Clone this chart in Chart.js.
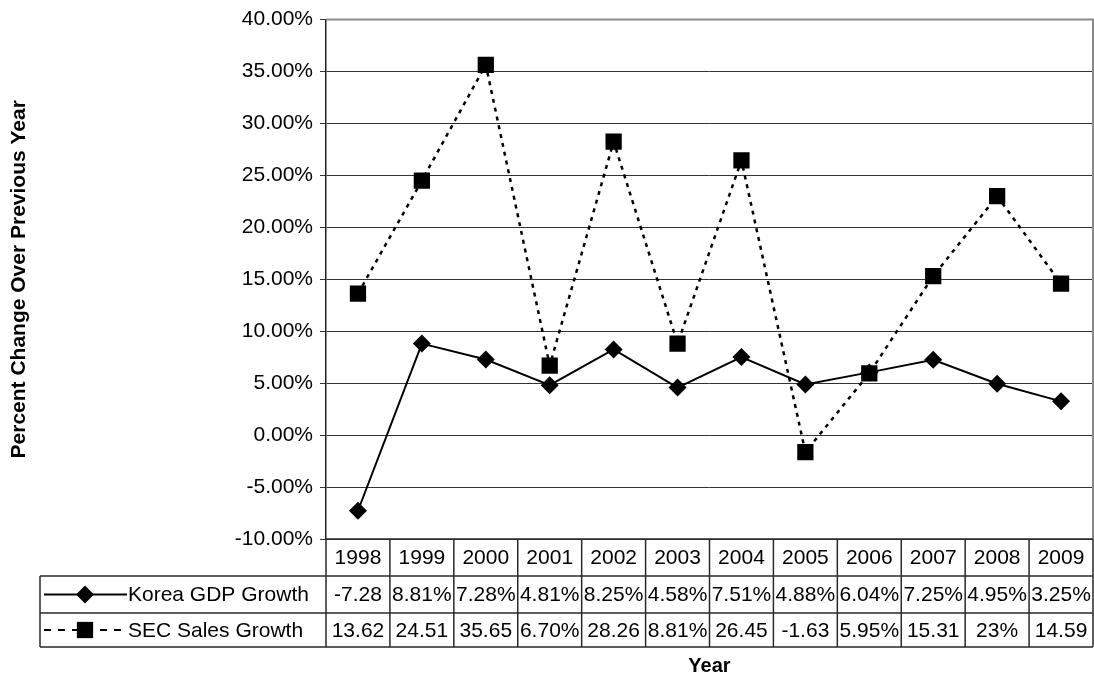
<!DOCTYPE html>
<html>
<head>
<meta charset="utf-8">
<script src="https://cdn.jsdelivr.net/npm/chart.js@4/dist/chart.umd.min.js"></script>
<style>
  html, body { margin: 0; padding: 0; background: #fff; }
  #wrap { width: 1094px; height: 679px; position: relative; }
</style>
</head>
<body>
<div id="wrap"><canvas id="c" width="1094" height="679"></canvas></div>
<script>
// Year-over-year growth, in percent
const years = ['1998', '1999', '2000', '2001', '2002', '2003', '2004', '2005', '2006', '2007', '2008', '2009'];
const gdpGrowth = [-7.28, 8.81, 7.28, 4.81, 8.25, 4.58, 7.51, 4.88, 6.04, 7.25, 4.95, 3.25];
const secGrowth = [13.62, 24.51, 35.65, 6.70, 28.26, 8.81, 26.45, -1.63, 5.95, 15.31, 23, 14.59];

// Text shown in the data table cells under the plot
const gdpCells = ['-7.28', '8.81%', '7.28%', '4.81%', '8.25%', '4.58%', '7.51%', '4.88%', '6.04%', '7.25%', '4.95%', '3.25%'];
const secCells = ['13.62', '24.51', '35.65', '6.70%', '28.26', '8.81%', '26.45', '-1.63', '5.95%', '15.31', '23%', '14.59'];

const seriesNames = ['Korea GDP Growth', 'SEC Sales Growth'];
const axisTitles = { x: 'Year', y: 'Percent Change Over Previous Year' };

const FONT = '"Liberation Sans", Arial, sans-serif';

const gdpStyle = { pointStyle: 'rectRot', radius: 9, dash: [], keyDash: [] };
const secStyle = { pointStyle: 'rect', radius: 11.5, dash: [4, 5], keyDash: [7, 7] };

// Draws the data table (year header, legend keys, values) beneath the plot
const dataTable = {
  id: 'dataTable',
  afterDraw(chart) {
    const { ctx, chartArea: a, scales: { x } } = chart;
    const n = years.length;
    const cols = [a.left];
    for (let i = 1; i < n; i++) cols.push((x.getPixelForValue(i - 1) + x.getPixelForValue(i)) / 2);
    cols.push(a.right);
    const rows = [a.bottom, a.bottom + 37, a.bottom + 74, a.bottom + 108];
    const legendLeft = 40;

    ctx.save();
    // plot frame (top and right)
    ctx.strokeStyle = '#8a8a8a';
    ctx.lineWidth = 2;
    ctx.beginPath();
    ctx.moveTo(a.left, a.top);
    ctx.lineTo(a.right, a.top);
    ctx.lineTo(a.right, a.bottom);
    ctx.stroke();

    // table rules
    ctx.strokeStyle = '#2a2a2a';
    ctx.lineWidth = 1.5;
    ctx.beginPath();
    ctx.moveTo(a.left, rows[0]); ctx.lineTo(a.right, rows[0]);
    for (let r = 1; r < rows.length; r++) {
      ctx.moveTo(legendLeft, rows[r]); ctx.lineTo(a.right, rows[r]);
    }
    cols.forEach(cx => { ctx.moveTo(cx, rows[0]); ctx.lineTo(cx, rows[3]); });
    ctx.moveTo(legendLeft, rows[1]); ctx.lineTo(legendLeft, rows[3]);
    ctx.stroke();

    // cell text
    ctx.fillStyle = '#000';
    ctx.font = '21px ' + FONT;
    ctx.textAlign = 'center';
    ctx.textBaseline = 'middle';
    const mid = r => (rows[r] + rows[r + 1]) / 2 + 1;
    for (let i = 0; i < n; i++) {
      const cx = (cols[i] + cols[i + 1]) / 2;
      ctx.fillText(years[i], cx, mid(0));
      ctx.fillText(gdpCells[i], cx, mid(1));
      ctx.fillText(secCells[i], cx, mid(2));
    }

    // legend keys with series names
    [gdpStyle, secStyle].forEach((st, k) => {
      const y = mid(k + 1) - 1;
      ctx.strokeStyle = '#000';
      ctx.lineWidth = 2;
      ctx.setLineDash(st.keyDash);
      ctx.beginPath();
      ctx.moveTo(44, y); ctx.lineTo(127, y);
      ctx.stroke();
      ctx.setLineDash([]);
      ctx.fillStyle = '#000';
      Chart.helpers.drawPoint(ctx, { pointStyle: st.pointStyle, radius: st.radius, rotation: 0, borderWidth: 0 }, 85, y);
      ctx.textAlign = 'left';
      ctx.fillText(seriesNames[k], 128, y + 1);
    });

    // x axis title
    ctx.font = 'bold 20px ' + FONT;
    ctx.textAlign = 'center';
    ctx.fillText(axisTitles.x, (a.left + a.right) / 2, rows[3] + 19);
    ctx.restore();
  }
};

new Chart(document.getElementById('c'), {
  type: 'line',
  data: {
    labels: years,
    datasets: [
      {
        label: seriesNames[0],
        data: gdpGrowth,
        borderColor: '#000',
        backgroundColor: '#000',
        borderWidth: 2,
        pointStyle: gdpStyle.pointStyle,
        pointRadius: gdpStyle.radius,
        pointHoverRadius: gdpStyle.radius,
        pointBorderWidth: 0,
        tension: 0
      },
      {
        label: seriesNames[1],
        data: secGrowth,
        borderColor: '#000',
        backgroundColor: '#000',
        borderWidth: 2.5,
        borderDash: secStyle.dash,
        pointStyle: secStyle.pointStyle,
        pointRadius: secStyle.radius,
        pointHoverRadius: secStyle.radius,
        pointBorderWidth: 0,
        tension: 0
      }
    ]
  },
  options: {
    responsive: false,
    animation: false,
    devicePixelRatio: 1,
    layout: { autoPadding: false, padding: { top: 18, right: 1, bottom: 140, left: 0 } },
    plugins: { legend: { display: false }, tooltip: { enabled: false } },
    scales: {
      x: { display: false, offset: true },
      y: {
        min: -10,
        max: 40,
        afterFit(scale) { scale.width = 326; },
        ticks: {
          stepSize: 5,
          padding: 7,
          color: '#000',
          font: { family: FONT, size: 21 },
          callback: v => v.toFixed(2) + '%'
        },
        grid: { color: '#333', lineWidth: 1, tickLength: 6 },
        border: { color: '#222', width: 1.5 },
        title: {
          display: true,
          text: axisTitles.y,
          color: '#000',
          font: { family: FONT, size: 21, weight: 'bold' },
          padding: { top: 7, bottom: 0 }
        }
      }
    }
  },
  plugins: [dataTable]
});
</script>
</body>
</html>
